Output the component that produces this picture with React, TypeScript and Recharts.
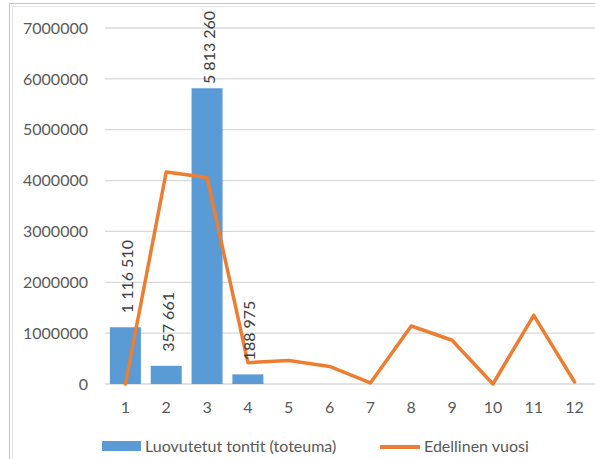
import React from 'react';
import { ComposedChart, Bar, Line, XAxis, YAxis, CartesianGrid, Legend, LabelList } from 'recharts';

const months = ['1', '2', '3', '4', '5', '6', '7', '8', '9', '10', '11', '12'];
const luovutetut: (number | null)[] = [1116510, 357661, 5813260, 188975, null, null, null, null, null, null, null, null];
const edellinen: number[] = [0, 4170000, 4060000, 420000, 460000, 345000, 20000, 1140000, 860000, 0, 1350000, 40000];
const yTicks = [0, 1000000, 2000000, 3000000, 4000000, 5000000, 6000000, 7000000];

const data = months.map((m, i) => ({ month: m, luovutetut: luovutetut[i], edellinen: edellinen[i] }));

const FONT = 'Lato, "DejaVu Sans", sans-serif';

const fmt = (v: number) => String(v).replace(/\B(?=(\d{3})+(?!\d))/g, ' ');

const BarLabel = (props: any) => {
  const { x, y, width, value } = props;
  if (value == null) return null;
  const cx = x + width / 2 + 1;
  const bottom = Math.max(y - 14, 84);
  return (
    <text
      x={cx}
      y={bottom}
      transform={`rotate(-90 ${cx} ${bottom})`}
      textAnchor="start"
      dominantBaseline="central"
      fill="#404040"
      fontSize={16}
      fontFamily={FONT}
    >
      {fmt(value)}
    </text>
  );
};

const legendPos: Record<string, { keyLeft: number; textLeft: number }> = {
  luovutetut: { keyLeft: 102, textLeft: 145 },
  edellinen: { keyLeft: 380, textLeft: 424 },
};

const renderLegend = (props: any) => {
  const payload = props.payload || [];
  return (
    <div style={{ position: 'relative', width: 595, height: 20, fontFamily: FONT, fontSize: 16, color: '#595959' }}>
      {payload.map((p: any, i: number) => {
        const pos = legendPos[p.dataKey] || { keyLeft: 102, textLeft: 145 };
        const isLine = p.type === 'line';
        return (
          <React.Fragment key={i}>
            {isLine ? (
              <div style={{ position: 'absolute', left: pos.keyLeft, top: 8.5, width: 40, height: 4, background: p.color }} />
            ) : (
              <div style={{ position: 'absolute', left: pos.keyLeft, top: 5, width: 39, height: 10, background: p.color }} />
            )}
            <span style={{ position: 'absolute', left: pos.textLeft, top: 0, lineHeight: '20px', whiteSpace: 'nowrap' }}>{p.value}</span>
          </React.Fragment>
        );
      })}
    </div>
  );
};

export default function App() {
  return (
    <div style={{ position: 'fixed', left: 0, top: 0, width: 595, height: 459, background: '#fff' }}>
      <div style={{ position: 'absolute', left: 9, top: 3, right: 0, bottom: 0, borderLeft: '1px solid #c6c6c6', borderTop: '1px solid #c6c6c6' }} />
      <div style={{ position: 'absolute', left: 12, top: 6, right: 0, bottom: 0, borderLeft: '1px solid #e2e2e2', borderTop: '1px solid #e2e2e2' }} />
      <div style={{ position: 'absolute', left: 0, top: 0 }}>
        <ComposedChart width={595} height={459} data={data} margin={{ top: 28, right: 0, bottom: 3, left: 0 }} barCategoryGap="12%">
          <CartesianGrid vertical={false} stroke="#d9d9d9" strokeWidth={1.3} />
          <XAxis
            dataKey="month"
            axisLine={false}
            tickLine={false}
            tickSize={0}
            tickMargin={18}
            height={52}
            interval={0}
            tick={{ fill: '#595959', fontSize: 16, fontFamily: FONT }}
          />
          <YAxis
            domain={[0, 7000000]}
            ticks={yTicks}
            interval={0}
            axisLine={false}
            tickLine={false}
            tickSize={0}
            tickMargin={17}
            width={105}
            tick={{ fill: '#595959', fontSize: 16, fontFamily: FONT }}
          />
          <Legend verticalAlign="bottom" content={renderLegend} />
          <Bar dataKey="luovutetut" name="Luovutetut tontit (toteuma)" fill="#5b9bd5" isAnimationActive={false} legendType="rect">
            <LabelList dataKey="luovutetut" content={BarLabel} />
          </Bar>
          <Line
            dataKey="edellinen"
            name="Edellinen vuosi"
            type="linear"
            stroke="#ed7d31"
            strokeWidth={3.5}
            strokeLinejoin="round"
            strokeLinecap="round"
            dot={false}
            activeDot={false}
            isAnimationActive={false}
            legendType="line"
          />
        </ComposedChart>
      </div>
    </div>
  );
}
